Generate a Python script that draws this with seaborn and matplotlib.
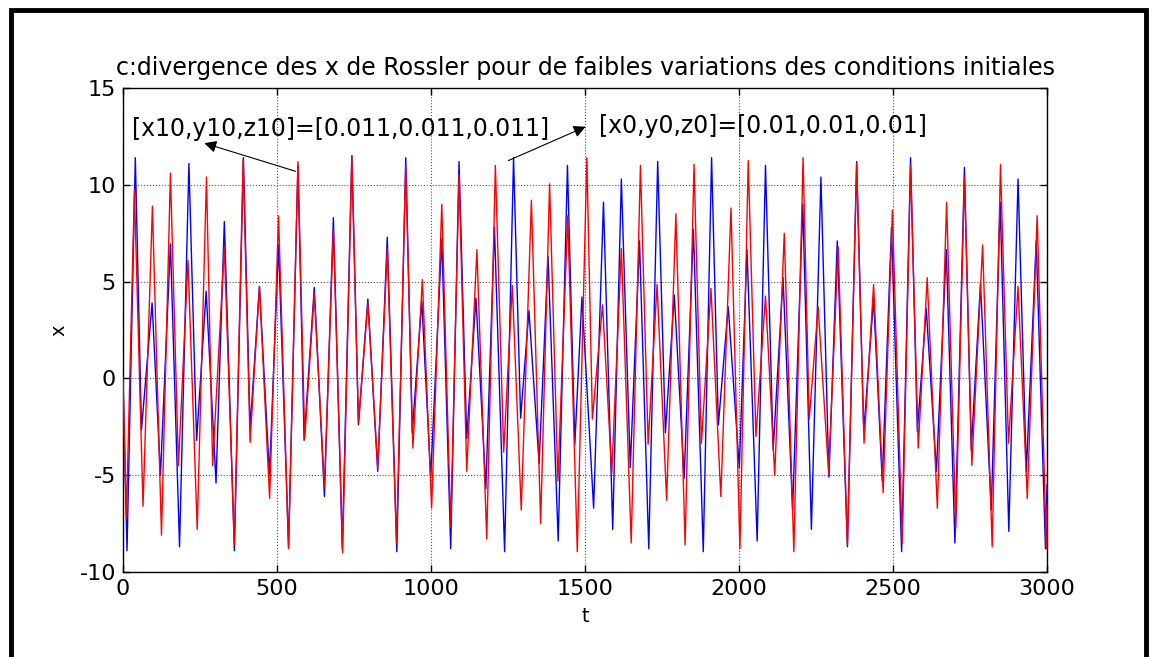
import matplotlib
matplotlib.use("Agg")
import matplotlib.pyplot as plt
import matplotlib.patches as mpatches
import seaborn as sns
import pandas as pd

# ---- data (extrema) ----
t_blue = [0, 13, 40, 60, 94.5, 121.6, 154, 183.5, 214, 239, 270, 302, 329, 361.6, 391, 412.6,
          443, 475.6, 505, 537.5, 568, 588, 621, 654, 683, 712, 743, 764.5, 795, 827, 858, 889,
          918, 939, 970, 999, 1035, 1064, 1091, 1116, 1146, 1178, 1206, 1239, 1268, 1291, 1318,
          1351, 1380, 1413, 1443, 1467, 1490, 1528, 1560, 1590, 1618, 1647, 1677, 1707, 1736,
          1761, 1790, 1822, 1852, 1884, 1911, 1933, 1965, 2001, 2026, 2059, 2086, 2111, 2143,
          2174, 2207, 2235, 2266, 2292, 2319, 2352, 2382, 2405, 2437, 2465, 2495, 2528, 2557,
          2579, 2608, 2641, 2673, 2701, 2732, 2754, 2784, 2819, 2848, 2876, 2906, 2933, 2965,
          2995, 3000]
x_blue = [0.0, -8.9, 11.4, -2.65, 3.9, -5.0, 6.95, -8.7, 11.1, -3.2, 4.5, -5.4, 8.1, -8.9, 11.4, -2.6,
          4.75, -5.0, 6.9, -8.7, 11.0, -3.2, 4.7, -6.1, 8.3, -8.8, 11.5, -2.4, 4.1, -4.8, 7.3, -8.95,
          11.4, -2.8, 4.0, -5.1, 7.2, -8.8, 11.2, -3.1, 4.15, -5.7, 7.8, -8.95, 11.4, -2.05, 3.5,
          -4.4, 6.3, -8.4, 11.0, -3.4, 4.2, -6.7, 9.1, -7.8, 10.3, -4.6, 7.1, -8.8, 11.2,
          -2.8, 4.3, -5.15, 7.7, -8.95, 11.4, -2.4, 3.7, -4.6, 6.65, -8.4, 11.0, -3.7, 5.2,
          -6.8, 9.0, -7.8, 10.4, -5.1, 7.1, -8.7, 11.2, -2.75, 4.1, -5.3, 7.8, -8.95, 11.4,
          -2.75, 3.6, -4.8, 6.65, -8.5, 10.9, -3.7, 4.9, -6.8, 9.1, -7.9, 10.3, -4.8, 7.1,
          -8.8, -5.5]

t_red = [0, 11, 37, 65, 95.5, 125, 154, 180, 211, 241, 271, 291, 329, 361.6, 390, 412.6, 443,
         476, 505, 537.5, 568, 590, 621, 654, 683, 713, 743, 764.5, 795, 827, 858, 888, 918,
         941, 972, 1002, 1035, 1064, 1091, 1116, 1149, 1181, 1209, 1236, 1264, 1293, 1326,
         1356, 1385, 1412, 1444, 1475, 1506, 1524, 1557, 1587, 1618, 1650, 1680, 1705, 1734,
         1765, 1795, 1825, 1854, 1878, 1909, 1941, 1974, 2003, 2030, 2055, 2086, 2116, 2147,
         2178, 2208, 2228, 2257, 2291, 2322, 2352, 2382, 2406, 2437, 2468, 2498, 2530, 2557,
         2582, 2611, 2644, 2674, 2704, 2732, 2756, 2791, 2822, 2849, 2875, 2906, 2936, 2968,
         2998, 3000]
x_red = [0.0, -7.2, 9.75, -6.6, 8.9, -8.1, 10.6, -4.5, 6.1, -7.8, 10.4, -4.5, 6.8, -8.6, 11.3, -3.3, 4.75,
         -6.2, 8.4, -8.8, 11.2, -3.1, 4.4, -5.6, 7.7, -9.0, 11.5, -2.3, 3.9, -4.6, 6.7, -8.5, 11.0,
         -3.6, 5.1, -6.7, 9.0, -7.7, 10.5, -4.8, 6.65, -8.3, 11.0, -3.8, 4.8, -6.8, 9.2,
         -7.5, 10.05, -5.3, 8.4, -8.95, 11.4, -2.1, 3.8, -4.9, 6.7, -8.5, 11.0, -3.4, 4.85,
         -6.3, 8.5, -8.6, 11.05, -3.35, 4.65, -6.1, 8.8, -8.8, 11.25, -3.0, 4.25, -5.0, 7.5,
         -8.95, 11.4, -2.1, 3.7, -4.9, 6.8, -8.6, 11.1, -3.35, 4.85, -5.9, 8.7, -8.5, 11.0,
         -3.6, 5.2, -6.7, 9.1, -7.75, 10.4, -4.5, 6.9, -8.7, 11.05, -3.35, 4.75, -6.2, 8.4,
         -8.8, -6.5]

x_ticks = [0, 500, 1000, 1500, 2000, 2500, 3000]
y_ticks = [-10, -5, 0, 5, 10, 15]
title = "c:divergence des x de Rossler pour de faibles variations des conditions initiales"
label_ic1 = "[x10,y10,z10]=[0.011,0.011,0.011]"
label_ic0 = "[x0,y0,z0]=[0.01,0.01,0.01]"

# ---- plot ----
sns.set_theme(style="white")
plt.rcParams["font.family"] = ["DejaVu Sans"]
plt.rcParams["text.color"] = "black"
plt.rcParams["axes.labelcolor"] = "black"

fig = plt.figure(figsize=(11.52, 6.57), dpi=100)
ax = fig.add_axes([123 / 1152, 1 - 572 / 657, (1047 - 123) / 1152, (572 - 88) / 657])

df_b = pd.DataFrame({"t": t_blue, "x": x_blue})
df_r = pd.DataFrame({"t": t_red, "x": x_red})
sns.lineplot(data=df_b, x="t", y="x", ax=ax, color="#0000ff", linewidth=1.0,
             estimator=None, sort=False, zorder=3)
sns.lineplot(data=df_r, x="t", y="x", ax=ax, color="#ff0000", linewidth=1.0,
             estimator=None, sort=False, zorder=4)

ax.set_xlim(0, 3000)
ax.set_ylim(-10, 15)
ax.set_xticks(x_ticks)
ax.set_yticks(y_ticks)
ax.set_xticklabels([str(v) for v in x_ticks], fontsize=16)
ax.set_yticklabels([str(v) for v in y_ticks], fontsize=16)
ax.tick_params(direction="in", length=5, width=1, top=True, right=True,
               bottom=True, left=True, colors="black", pad=5)
ax.grid(True, linestyle=":", color="#555555", linewidth=0.8)
for s in ax.spines.values():
    s.set_color("black")
    s.set_linewidth(1.0)

ax.set_xlabel("t", fontsize=14, labelpad=6)
ax.set_ylabel("x", fontsize=14, labelpad=8)
ax.set_title(title, fontsize=17, pad=9, color="black")

arrow_kw = dict(arrowstyle="-|>", color="black", lw=0.8, mutation_scale=18,
                shrinkA=0, shrinkB=0)
ax.text(29, 12.9, label_ic1, fontsize=17, ha="left", va="center", zorder=6)
ax.annotate("", xy=(264, 12.15), xytext=(560, 10.7), arrowprops=arrow_kw, zorder=6)
ax.text(1544, 13.05, label_ic0, fontsize=17, ha="left", va="center", zorder=6)
ax.annotate("", xy=(1502, 13.0), xytext=(1251, 11.25), arrowprops=arrow_kw, zorder=6)

fig.patches.append(mpatches.Rectangle((11 / 1152, -0.05), (1146 - 11) / 1152, 1.05 - 9.5 / 657,
                                      transform=fig.transFigure, fill=False,
                                      edgecolor="black", linewidth=3.5, zorder=10))

fig.savefig("out.png", dpi=100)
